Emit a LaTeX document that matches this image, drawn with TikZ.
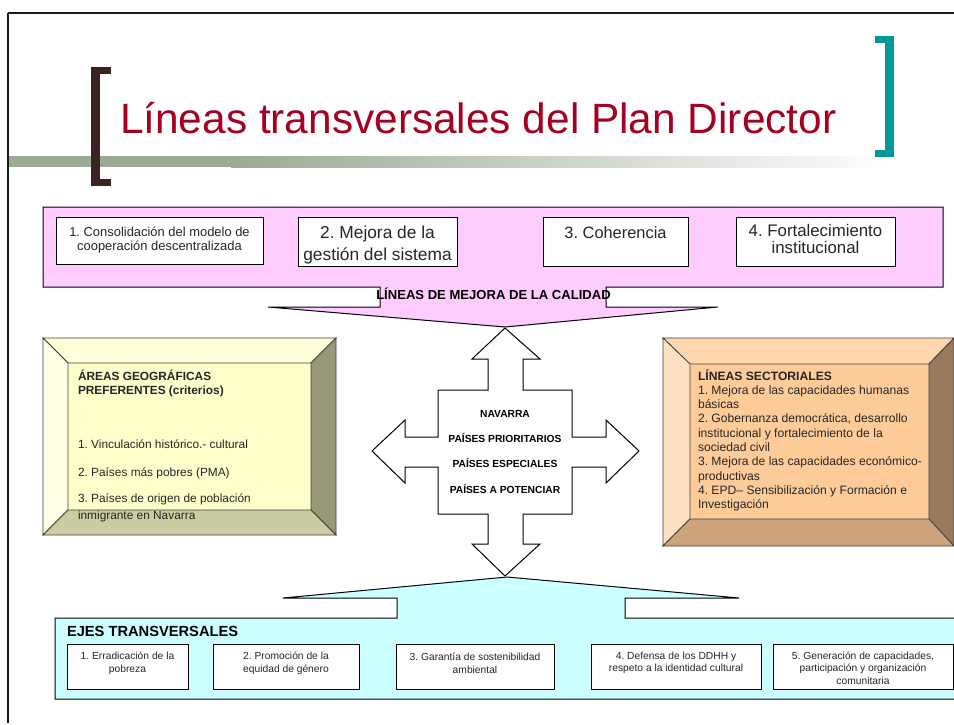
\documentclass[tikz,border=0pt]{standalone}
\usepackage{fontspec}
\setmainfont{Liberation Sans}
\definecolor{sage}{HTML}{9BAA94}
\definecolor{brk}{HTML}{3B2221}
\definecolor{tealbr}{HTML}{009A96}
\definecolor{titlered}{HTML}{A50021}
\definecolor{pinkf}{HTML}{FFCCFF}
\definecolor{cyanf}{HTML}{CCFFFF}
\definecolor{yface}{HTML}{FFFFCC}
\definecolor{ytop}{HTML}{FFFFD8}
\definecolor{yleft}{HTML}{FFFFE6}
\definecolor{yright}{HTML}{99997A}
\definecolor{ybot}{HTML}{CCCCA3}
\definecolor{oface}{HTML}{FFCC99}
\definecolor{otop}{HTML}{FFD6AD}
\definecolor{oleft}{HTML}{FFE0C2}
\definecolor{oright}{HTML}{997A5C}
\definecolor{obot}{HTML}{CCA37A}
\newcommand\myfs[2]{\fontsize{#1}{#2}\selectfont}
\frenchspacing
\begin{document}
\begin{tikzpicture}[x=0.75pt,y=-0.75pt,
  every node/.style={inner sep=0pt, outer sep=0pt},
  boxline/.style={draw=black, line width=0.75pt},
  wbox/.style={boxline, fill=white},
  bevelline/.style={draw=black!75, line width=0.6pt},
  lbl/.style={anchor=base west, text=black!85},
  crosstxt/.style={anchor=base, font=\bfseries\myfs{7.7}{9}},
  subtxt/.style={align=center, font=\myfs{7.7}{9.5}, text=black!85}]
\useasboundingbox (0,0) rectangle (954,725);
\fill[white] (0,0) rectangle (954,725);

% slide frame
\draw[line width=1.6pt, black!90] (8,13) -- (954,13);
\draw[line width=1.6pt, black!90] (8,13) -- (8,723);

% title bar and brackets
\fill[sage] (9,156) rectangle (231,167);
\shade[left color=sage, right color=white] (231,156) rectangle (894,167);
\fill[brk] (91,67) rectangle (100,186);
\fill[brk] (91,67) rectangle (111,74);
\fill[brk] (91,179) rectangle (111,186);
\fill[tealbr] (885,36) rectangle (894,157);
\fill[tealbr] (875,36) rectangle (894,43);
\fill[tealbr] (875,150) rectangle (894,157);
\node[anchor=base west, text=titlered, font=\myfs{31.8}{38}] (title) at (120,133) {Líneas transversales del Plan Director};

% pink down-arrow callout
\draw[boxline, fill=pinkf] (43,207) -- (943,207) -- (943,287) -- (606,287) -- (606,307) -- (718,307) -- (505,327) -- (268,307) -- (380,307) -- (380,287) -- (43,287) -- cycle;
\draw[wbox] (56,217) rectangle (263,264);
\draw[wbox] (298,217) rectangle (457,266);
\draw[wbox] (543,217) rectangle (688,266);
\draw[wbox] (736,217) rectangle (895,266);
\node[align=center, font=\myfs{9.7}{10.5}, text=black!85] (q1) at (159.5,240) {1. Consolidación del modelo de\\cooperación descentralizada};
\node[align=center, font=\myfs{13}{15.8}, text=black!85] (q2) at (377.5,245) {2. Mejora de la\\gestión del sistema};
\node[anchor=base, font=\myfs{12.3}{14}, text=black!85] (q3) at (615.5,238) {3. Coherencia};
\node[align=center, font=\myfs{12.6}{12.2}, text=black!85] (q4) at (815.5,239) {4. Fortalecimiento\\institucional};
\node[anchor=base, font=\bfseries\myfs{9.8}{11}] (mejora) at (493.5,299) {LÍNEAS DE MEJORA DE LA CALIDAD};

% left bevel box
\fill[yface] (68,363) rectangle (311,510);
\filldraw[bevelline, fill=ytop] (43,338) -- (336,338) -- (311,363) -- (68,363) -- cycle;
\filldraw[bevelline, fill=yleft] (43,338) -- (68,363) -- (68,510) -- (43,535) -- cycle;
\filldraw[bevelline, fill=yright] (336,338) -- (336,535) -- (311,510) -- (311,363) -- cycle;
\filldraw[bevelline, fill=ybot] (43,535) -- (68,510) -- (311,510) -- (336,535) -- cycle;
\node[lbl, font=\bfseries\myfs{8.9}{10}] (ag1) at (78,380) {ÁREAS GEOGRÁFICAS};
\node[lbl, font=\bfseries\myfs{8.9}{10}] (ag2) at (78,394) {PREFERENTES (criterios)};
\node[lbl, font=\myfs{8.9}{10}] (ag3) at (78,448) {1. Vinculación histórico.- cultural};
\node[lbl, font=\myfs{8.9}{10}] (ag4) at (78,476) {2. Países más pobres (PMA)};
\node[lbl, font=\myfs{8.9}{10}] (ag5) at (78,502) {3. Países de origen de población};
\node[lbl, font=\myfs{8.9}{10}] (ag6) at (78,519) {inmigrante en Navarra};

% right bevel box
\fill[oface] (690,364) rectangle (929,519);
\filldraw[bevelline, fill=otop] (663,338) -- (954,338) -- (929,364) -- (690,364) -- cycle;
\filldraw[bevelline, fill=oleft] (663,338) -- (690,364) -- (690,519) -- (663,546) -- cycle;
\filldraw[bevelline, fill=oright] (954,338) -- (954,546) -- (929,519) -- (929,364) -- cycle;
\filldraw[bevelline, fill=obot] (663,546) -- (690,519) -- (929,519) -- (954,546) -- cycle;
\node[lbl, font=\bfseries\myfs{9.1}{10}] (ls0) at (698,380) {LÍNEAS SECTORIALES};
\foreach \t [count=\i] in {1. Mejora de las capacidades humanas, básicas, {2. Gobernanza democrática, desarrollo}, institucional y fortalecimiento de la, sociedad civil, 3. Mejora de las capacidades económico-, productivas, 4. EPD– Sensibilización y Formación e, Investigación}
  \node[lbl, font=\myfs{9.1}{10}] (ls\i) at (698,380+14.3*\i) {\t};

% central cross arrow
\draw[boxline, fill=white] (505,328) -- (540,359) -- (523,359) -- (523,390) -- (572,390) -- (572,437) -- (606,437) -- (606,420) -- (639,451) -- (606,483) -- (606,467) -- (572,467) -- (572,514) -- (523,514) -- (523,544) -- (540,544) -- (505,576) -- (472,544) -- (488,544) -- (488,514) -- (438,514) -- (438,467) -- (405,467) -- (405,483) -- (372,451) -- (405,420) -- (405,437) -- (438,437) -- (438,390) -- (488,390) -- (488,359) -- (472,359) -- cycle;
\node[crosstxt] (c1) at (505,417) {NAVARRA};
\node[crosstxt] (c2) at (505,442) {PAÍSES PRIORITARIOS};
\node[crosstxt] (c3) at (505,467) {PAÍSES ESPECIALES};
\node[crosstxt] (c4) at (505,493) {PAÍSES A POTENCIAR};

% cyan up-arrow callout
\draw[boxline, fill=cyanf] (55,618) -- (397,618) -- (397,598) -- (283,598) -- (507,577) -- (739,598) -- (625,598) -- (625,618) -- (962,618) -- (962,699) -- (55,699) -- cycle;
\node[anchor=base west, font=\bfseries\myfs{11}{12}] (ejes) at (67,636) {EJES TRANSVERSALES};
\draw[wbox] (67,644) rectangle (188,689);
\draw[wbox] (213,644) rectangle (359,689);
\draw[wbox] (396,644) rectangle (554,689);
\draw[wbox] (591,644) rectangle (761,689);
\draw[wbox] (773,644) rectangle (953,689);
\node[subtxt] (e1) at (127.5,663) {1. Erradicación de la\\pobreza};
\node[subtxt] (e2) at (286,663) {2. Promoción de la\\equidad de género};
\node[subtxt] (e3) at (475,663) {3. Garantía de sostenibilidad\\ambiental};
\node[subtxt] (e4) at (676,663) {4. Defensa de los DDHH y\\respeto a la identidad cultural};
\node[subtxt] (e5) at (863,668) {5. Generación de capacidades,\\participación y organización\\comunitaria};
\end{tikzpicture}
\end{document}
